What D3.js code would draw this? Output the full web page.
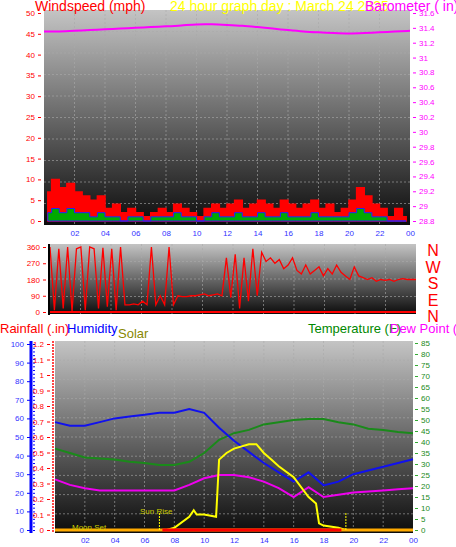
<!DOCTYPE html>
<html><head>
<script src="https://d3js.org/d3.v7.min.js"></script>
<style>body{margin:0;background:#fff}text{font-family:"Liberation Sans",Arial,sans-serif}</style>
</head><body>
<svg id="vis" width="456" height="547"></svg>
<script>
// hour labels
var hourTicks = [2,4,6,8,10,12,14,16,18,20,22,24]
// barometer, hourly 0..24
var baro = [31.35,31.35,31.36,31.37,31.38,31.39,31.40,31.41,31.42,31.43,31.45,31.45,31.44,31.43,31.41,31.39,31.37,31.35,31.34,31.33,31.32,31.33,31.34,31.35,31.36]
// wind gust & speed, half-hourly 0..23.5
var gust = [7,10,8,9,7,6,5,6,3,4,2,3,2,1,2,3,2,4,3,2,1,3,4,3,4,5,3,4,5,4,3,5,4,3,4,5,3,4,2,3,5,8,6,4,3,1,3,1]
var speed = [2,3,2,3,2,2,1,2,1,1,0,1,1,0,1,1,1,2,1,1,0,1,2,1,1,2,1,1,2,1,1,2,1,1,1,2,1,1,1,1,2,3,2,1,1,0,0,0]
// wind direction, 0..24 h evenly spaced
var dir = [360,10,350,20,360,5,350,360,10,360,350,20,
           355,30,350,10,360,40,40,45,40,60,40,360,
           40,90,40,360,40,90,85,85,90,90,95,100,
           90,95,100,90,300,80,320,20,300,60,350,90,
           330,280,300,270,290,240,260,300,230,210,260,210,
           230,250,200,240,210,260,220,200,180,250,200,190,
           180,190,170,180,175,180,170,180,185,180,180,180]
// bottom panel, hourly 0..24
var humidity = [58,56,56,58,60,61,62,63,63,65,63,55,48,42,36,31,26,31,24,26,30,32,34,36,38]
var temperature = [37,35,33,32.5,32,31,30.5,29.5,29.5,31,35,41,44,45.5,48,49,50,50.5,50.5,49,48,46,45.5,44.5,44]
var dewpoint = [23,20.5,19,18,18,18,18,18,18,20.5,23.5,25,25,24,22,19,15,19.5,15,16,17,17.5,18,18.5,19]
var solarHours = [7.5,8,9,9.3,9.5,10,10.8,11,11.5,12,13,13.5,14,14.5,15,16,17,17.5,17.7,18,19,19.5]
var solar = [0,10,60,90,70,70,60,320,350,370,390,390,350,320,290,240,150,120,30,20,10,0]
var sunRise = 7, sunSet = 19.5

var svg = d3.select('#vis')
var defs = svg.append('defs')
var g = defs.append('linearGradient').attr('id','bg').attr('x1',0).attr('y1',0).attr('x2',0).attr('y2',1)
g.append('stop').attr('offset','0%').attr('stop-color','#c4c4c4')
g.append('stop').attr('offset','100%').attr('stop-color','#0c0c0c')

function panel(x0,x1,y0,y1,ny){
  svg.append('rect').attr('x',x0).attr('y',y0).attr('width',x1-x0).attr('height',y1-y0).attr('fill','url(#bg)')
  for(var h=2;h<24;h+=2){
    var xx = x0+(x1-x0)*h/24
    svg.append('line').attr('x1',xx).attr('x2',xx).attr('y1',y0).attr('y2',y1).attr('stroke','#aaa').attr('stroke-dasharray','2,2').attr('opacity',0.6)
  }
  for(var i=1;i<ny;i++){
    var yy = y0+(y1-y0)*i/ny
    svg.append('line').attr('x1',x0).attr('x2',x1).attr('y1',yy).attr('y2',yy).attr('stroke','#aaa').attr('stroke-dasharray','2,2').attr('opacity',0.6)
  }
}
function label(x,y,t,c,s,anchor){
  svg.append('text').attr('x',x).attr('y',y).text(t).attr('fill',c).attr('font-size',s).attr('text-anchor',anchor||'start')
}

// ---------- top panel ----------
var xT = d3.scaleLinear().domain([0,24]).range([44,410])
var yW = d3.scaleLinear().domain([0,50]).range([221,13])
var yB = d3.scaleLinear().domain([28.8,31.6]).range([221,13])
panel(44,410,10,225,10)

svg.append('path').datum(gust).attr('fill','#f00').attr('stroke','#f00').attr('stroke-width',1.5)
  .attr('d',d3.area().curve(d3.curveStep).x((d,i)=>xT(i/2+0.25)).y0(yW(0)).y1(d=>yW(d)))
svg.append('path').datum(speed).attr('fill','#0a0').attr('stroke','#22f').attr('stroke-width',1)
  .attr('d',d3.area().curve(d3.curveStep).x((d,i)=>xT(i/2+0.25)).y0(yW(0)).y1(d=>yW(d)))
svg.append('path').datum(baro).attr('fill','none').attr('stroke','#f0f').attr('stroke-width',2)
  .attr('d',d3.line().curve(d3.curveBasis).x((d,i)=>xT(i)).y(d=>yB(d)))

var axL = svg.append('g').attr('transform','translate(41,0)').call(d3.axisLeft(yW).tickValues(d3.range(0,51,5)).tickSize(3))
var axR = svg.append('g').attr('transform','translate(413,0)').call(d3.axisRight(yB).tickValues(d3.range(28.8,31.61,0.2)).tickSize(3))
axR.selectAll('text').text(d=>(+d.toFixed(1)).toString())
var axX = svg.append('g').attr('transform','translate(0,226)').call(d3.axisBottom(xT).tickValues(hourTicks).tickFormat(d=>d3.format('02')(d%24)).tickSize(0))
;[axL,axR,axX].forEach(a=>{a.select('.domain').remove();a.selectAll('text').attr('font-size',8)})
axL.selectAll('text').attr('fill','#f00'); axL.selectAll('line').attr('stroke','#f00')
axR.selectAll('text').attr('fill','#f0f'); axR.selectAll('line').attr('stroke','#f0f')
axX.selectAll('text').attr('fill','#33f').attr('dy','0.9em')

label(35,11,'Windspeed (mph)','#f00',14)
label(170,11,'24 hour graph day : March 24 2025','#ff0',14)
label(365,11,'Barometer ( in)','#f0f',14)

// ---------- middle panel ----------
var xM = d3.scaleLinear().domain([0,24]).range([50,416])
var yD = d3.scaleLinear().domain([0,360]).range([312,247])
panel(50,416,244,314,4)
svg.append('path').datum(dir).attr('fill','none').attr('stroke','#f00').attr('stroke-width',1.3)
  .attr('d',d3.line().x((d,i)=>xM(i*24/(dir.length-1))).y(d=>yD(d)))
svg.append('line').attr('x1',50).attr('x2',416).attr('y1',yD(0)).attr('y2',yD(0)).attr('stroke','#f00').attr('stroke-width',2)
svg.append('line').attr('x1',49).attr('x2',49).attr('y1',244).attr('y2',315).attr('stroke','#000').attr('stroke-width',2)
var axD = svg.append('g').attr('transform','translate(46,0)').call(d3.axisLeft(yD).tickValues([0,90,180,270,360]).tickSize(3))
axD.select('.domain').remove()
axD.selectAll('text').attr('fill','#f00').attr('font-size',8); axD.selectAll('line').attr('stroke','#f00')
;['N','W','S','E','N'].forEach((t,i)=>label(433,256+i*16.5,t,'#f00',16,'middle'))

// ---------- bottom panel ----------
var xB = d3.scaleLinear().domain([0,24]).range([55,413])
var yH = d3.scaleLinear().domain([0,100]).range([530,344])
var yR = d3.scaleLinear().domain([0,1.2]).range([530,344])
var yTemp = d3.scaleLinear().domain([0,85]).range([530,343])
var yS = d3.scaleLinear().domain([0,850]).range([530,343])
panel(55,413,341,533,10)

var line = d3.line().x((d,i)=>xB(i)).y(d=>yTemp(d))
svg.append('path').datum(temperature).attr('fill','none').attr('stroke','#1a8a1a').attr('stroke-width',2).attr('d',line)
svg.append('path').datum(dewpoint).attr('fill','none').attr('stroke','#e0e').attr('stroke-width',2).attr('d',line)
svg.append('path').datum(humidity).attr('fill','none').attr('stroke','#11e').attr('stroke-width',2)
  .attr('d',d3.line().x((d,i)=>xB(i)).y(d=>yH(d)))
svg.append('path').datum(solar).attr('fill','none').attr('stroke','#ff0').attr('stroke-width',2)
  .attr('d',d3.line().x((d,i)=>xB(solarHours[i])).y(d=>yS(d)))
svg.append('line').attr('x1',55).attr('x2',413).attr('y1',yR(0)).attr('y2',yR(0)).attr('stroke','#fa0').attr('stroke-width',3)
svg.append('line').attr('x1',xB(sunRise+0.2)).attr('x2',xB(sunSet-0.3)).attr('y1',yR(0)).attr('y2',yR(0)).attr('stroke','#f00').attr('stroke-width',3)
;[sunRise,sunSet].forEach(h=>svg.append('line').attr('x1',xB(h)).attr('x2',xB(h)).attr('y1',513).attr('y2',530).attr('stroke','#ff0').attr('stroke-dasharray','2,1'))
label(140,514,'Sun Rise','#cc0',8)
label(72,530,'Moon Set','#cc0',8)

svg.append('line').attr('x1',31).attr('x2',31).attr('y1',341).attr('y2',533).attr('stroke','#00f').attr('stroke-width',3)
var axH = svg.append('g').attr('transform','translate(30,0)').call(d3.axisLeft(yH).tickValues(d3.range(0,101,10)).tickSize(3))
axH.selectAll('text').attr('fill','#33f').attr('font-size',8); axH.selectAll('line').attr('stroke','#00f')
var axHm = svg.append('g').attr('transform','translate(33,0)').call(d3.axisRight(yH).tickValues(d3.range(0,101,2)).tickFormat('').tickSize(2))
axHm.selectAll('line').attr('stroke','#00f')
svg.append('line').attr('x1',53).attr('x2',53).attr('y1',341).attr('y2',533).attr('stroke','#f44').attr('stroke-dasharray','2,1').attr('stroke-width',2)
var axR2 = svg.append('g').attr('transform','translate(50,0)').call(d3.axisLeft(yR).tickValues(d3.range(0,1.21,0.1)).tickFormat(d=>(+d.toFixed(1)).toString()).tickSize(3))
axR2.selectAll('text').attr('fill','#f00').attr('font-size',8); axR2.selectAll('line').attr('stroke','#f00')
var axT = svg.append('g').attr('transform','translate(415,0)').call(d3.axisRight(yTemp).tickValues(d3.range(0,86,5)).tickSize(3))
axT.selectAll('text').attr('fill','#1a8a1a').attr('font-size',8); axT.selectAll('line').attr('stroke','#3a3')
var axX2 = svg.append('g').attr('transform','translate(0,536)').call(d3.axisBottom(xB).tickValues(hourTicks).tickFormat(d=>d3.format('02')(d%24)).tickSize(0))
axX2.selectAll('text').attr('fill','#33f').attr('font-size',8).attr('dy','0.5em')
;[axH,axHm,axR2,axT,axX2].forEach(a=>a.select('.domain').remove())

label(0,333,'Rainfall (.in)','#f00',13)
label(67,333,'Humidity','#00f',13)
label(118,338,'Solar','#880',13)
label(308,333,'Temperature (F)','#080',13)
label(390,333,'Dew Point (','#f0f',13)
</script>
</body></html>
